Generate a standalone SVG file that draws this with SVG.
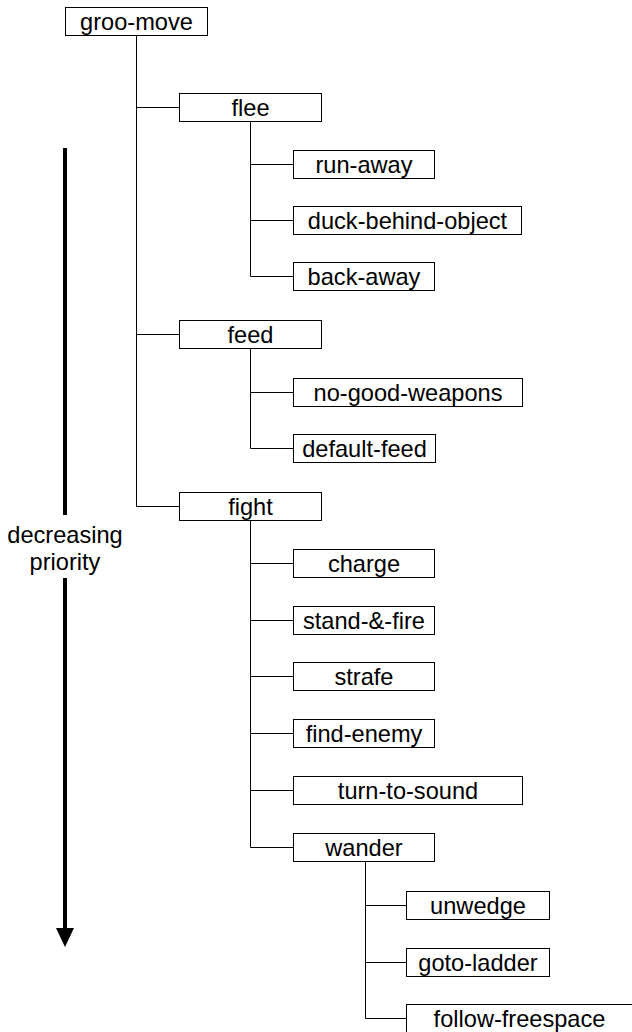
<svg xmlns="http://www.w3.org/2000/svg" width="632" height="1032" viewBox="0 0 632 1032">
<style>
.box{fill:#fff;stroke:#000;stroke-width:1}
.lbl{font-family:"Liberation Sans",Arial,sans-serif;font-size:23.6px;fill:#000;text-anchor:middle}
.con{fill:none;stroke:#000;stroke-width:1}
.pri{stroke:#000;stroke-width:4;fill:none}
</style>
<rect width="632" height="1032" fill="#fff"/>
<g id="connectors">
<path class="con" d="M136.5 35.5V506.5M136.5 107.5H179.5M136.5 334.5H179.5M136.5 506.5H179.5"/>
<path class="con" d="M250.5 121.5V276.5M250.5 164.5H293.5M250.5 220.5H293.5M250.5 276.5H293.5"/>
<path class="con" d="M250.5 348.5V448.5M250.5 392.5H293.5M250.5 448.5H293.5"/>
<path class="con" d="M250.5 520.5V847.5M250.5 563.5H293.5M250.5 620.5H293.5M250.5 676.5H293.5M250.5 733.5H293.5M250.5 790.5H293.5M250.5 847.5H293.5"/>
<path class="con" d="M365.5 861.5V1018.5M365.5 905.5H406.5M365.5 962.5H406.5M365.5 1018.5H406.5"/>
</g>
<g id="priority">
<line class="pri" x1="65" y1="148" x2="65" y2="515"/>
<line class="pri" x1="65" y1="578" x2="65" y2="930"/>
<polygon points="56,928 74,928 65,947" fill="#000"/>
<text class="lbl" x="65" y="543">decreasing</text>
<text class="lbl" x="65" y="570">priority</text>
</g>
<g id="groo-move"><rect class="box" x="65.5" y="7.5" width="142" height="28"/><text class="lbl" x="136.5" y="29.5">groo-move</text></g>
<g id="flee"><rect class="box" x="179.5" y="93.5" width="142" height="28"/><text class="lbl" x="250.5" y="115.5">flee</text></g>
<g id="run-away"><rect class="box" x="293.5" y="150.5" width="141" height="28"/><text class="lbl" x="364" y="172.5">run-away</text></g>
<g id="duck-behind-object"><rect class="box" x="293.5" y="206.5" width="228" height="28"/><text class="lbl" x="407.5" y="228.5">duck-behind-object</text></g>
<g id="back-away"><rect class="box" x="293.5" y="262.5" width="141" height="28"/><text class="lbl" x="364" y="284.5">back-away</text></g>
<g id="feed"><rect class="box" x="179.5" y="320.5" width="142" height="28"/><text class="lbl" x="250.5" y="342.5">feed</text></g>
<g id="no-good-weapons"><rect class="box" x="293.5" y="378.5" width="229" height="28"/><text class="lbl" x="408" y="400.5">no-good-weapons</text></g>
<g id="default-feed"><rect class="box" x="293.5" y="434.5" width="142" height="28"/><text class="lbl" x="364.5" y="456.5">default-feed</text></g>
<g id="fight"><rect class="box" x="179.5" y="492.5" width="142" height="28"/><text class="lbl" x="250.5" y="514.5">fight</text></g>
<g id="charge"><rect class="box" x="293.5" y="549.5" width="141" height="28"/><text class="lbl" x="364" y="571.5">charge</text></g>
<g id="stand-and-fire"><rect class="box" x="293.5" y="606.5" width="141" height="28"/><text class="lbl" x="364" y="628.5">stand-&amp;-fire</text></g>
<g id="strafe"><rect class="box" x="293.5" y="662.5" width="141" height="28"/><text class="lbl" x="364" y="684.5">strafe</text></g>
<g id="find-enemy"><rect class="box" x="293.5" y="719.5" width="141" height="28"/><text class="lbl" x="364" y="741.5">find-enemy</text></g>
<g id="turn-to-sound"><rect class="box" x="293.5" y="776.5" width="229" height="28"/><text class="lbl" x="408" y="798.5">turn-to-sound</text></g>
<g id="wander"><rect class="box" x="293.5" y="833.5" width="141" height="28"/><text class="lbl" x="364" y="855.5">wander</text></g>
<g id="unwedge"><rect class="box" x="406.5" y="891.5" width="143" height="28"/><text class="lbl" x="478" y="913.5">unwedge</text></g>
<g id="goto-ladder"><rect class="box" x="406.5" y="948.5" width="143" height="28"/><text class="lbl" x="478" y="970.5">goto-ladder</text></g>
<g id="follow-freespace"><rect class="box" x="406.5" y="1004.5" width="226" height="28"/><text class="lbl" x="519.5" y="1026.5">follow-freespace</text></g>
</svg>
